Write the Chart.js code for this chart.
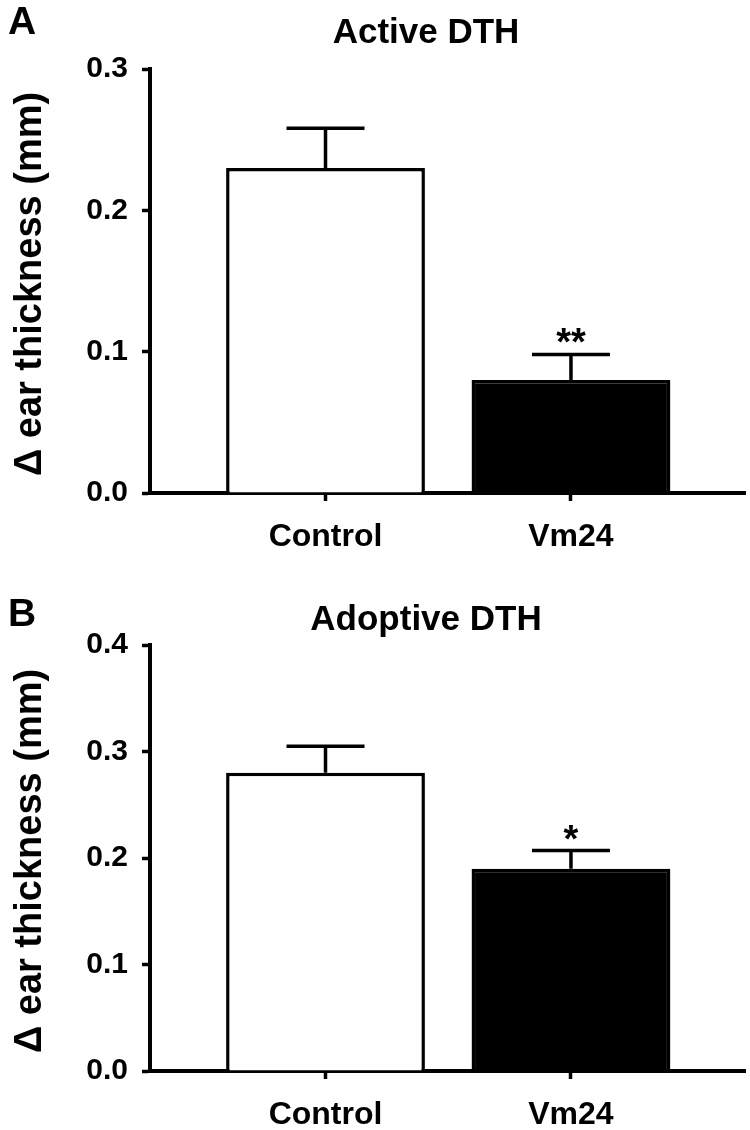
<!DOCTYPE html>
<html>
<head>
<meta charset="utf-8">
<script src="https://cdn.jsdelivr.net/npm/chart.js@4.4.0/dist/chart.umd.min.js"></script>
<style>
  html, body { margin: 0; padding: 0; background: #fff; }
  .panel { position: relative; width: 750px; height: 565px; }
</style>
</head>
<body>
<div class="panel"><canvas id="activeChart" width="750" height="565"></canvas></div>
<div class="panel"><canvas id="adoptiveChart" width="750" height="565"></canvas></div>
<script>
// Data
const categories = ['Control', 'Vm24'];
const barFills = ['#ffffff', '#000000'];

const activeMeans = [0.23, 0.08];
const activeErrors = [0.028, 0.018];
const activeStars = ['', '**'];
const activeTicks = [0, 0.1, 0.2, 0.3];

const adoptiveMeans = [0.28, 0.19];
const adoptiveErrors = [0.025, 0.017];
const adoptiveStars = ['', '*'];
const adoptiveTicks = [0, 0.1, 0.2, 0.3, 0.4];

const yTitle = '\u0394 ear thickness (mm)';
const FONT = '"Liberation Sans", Arial, sans-serif';

Chart.defaults.font.family = FONT;
Chart.defaults.color = '#000';

// error bars, significance stars, panel letter, title, y title
const extrasPlugin = {
  id: 'dthExtras',
  afterDatasetsDraw(chart, args, opts) {
    const ctx = chart.ctx;
    const y = chart.scales.y;
    const bars = chart.getDatasetMeta(0).data;
    ctx.save();
    ctx.strokeStyle = '#000';
    ctx.fillStyle = '#000';
    ctx.lineWidth = 3.5;
    bars.forEach((bar, i) => {
      const top = y.getPixelForValue(opts.means[i]);
      const cap = y.getPixelForValue(opts.means[i] + opts.errors[i]);
      ctx.beginPath();
      ctx.moveTo(bar.x, top);
      ctx.lineTo(bar.x, cap);
      ctx.moveTo(bar.x - 39, cap);
      ctx.lineTo(bar.x + 39, cap);
      ctx.stroke();
      if (opts.stars[i]) {
        ctx.font = 'bold 38px ' + FONT;
        ctx.textAlign = 'center';
        ctx.textBaseline = 'alphabetic';
        ctx.fillText(opts.stars[i], bar.x, cap + 1);
      }
    });
    ctx.restore();
  },
  afterDraw(chart, args, opts) {
    const ctx = chart.ctx;
    const area = chart.chartArea;
    ctx.save();
    ctx.fillStyle = '#000';
    ctx.textBaseline = 'alphabetic';

    ctx.font = 'bold 39px ' + FONT;
    ctx.textAlign = 'left';
    ctx.fillText(opts.letter, 8, opts.letterY);

    ctx.font = 'bold 35px ' + FONT;
    ctx.textAlign = 'center';
    ctx.fillText(opts.title, 426, opts.titleY);

    ctx.translate(31, (area.top + area.bottom) / 2 + 3);
    ctx.rotate(-Math.PI / 2);
    ctx.font = 'bold 38px ' + FONT;
    ctx.textBaseline = 'middle';
    ctx.fillText(yTitle, 0, 0);
    ctx.restore();
  }
};

function makeChart(canvasId, means, errors, stars, yTicks, cfg) {
  return new Chart(document.getElementById(canvasId), {
    type: 'bar',
    data: {
      datasets: [{
        data: means.map((v, i) => ({ x: i + 1, y: v })),
        backgroundColor: barFills,
        borderColor: '#000',
        borderWidth: 3.5,
        borderSkipped: 'bottom',
        barPercentage: 0.81,
        categoryPercentage: 1
      }]
    },
    options: {
      responsive: false,
      animation: false,
      devicePixelRatio: 1,
      layout: { padding: { top: cfg.top, right: 5, left: 0, bottom: 0 } },
      plugins: {
        legend: { display: false },
        tooltip: { enabled: false },
        dthExtras: {
          means: means, errors: errors, stars: stars,
          letter: cfg.letter, letterY: cfg.letterY,
          title: cfg.title, titleY: cfg.titleY
        }
      },
      scales: {
        x: {
          type: 'linear',
          min: 0.285,
          max: 2.709,
          offset: false,
          afterBuildTicks: axis => { axis.ticks = categories.map((c, i) => ({ value: i + 1 })); },
          afterFit: scale => { scale.height = cfg.xHeight; },
          ticks: {
            autoSkip: false,
            maxRotation: 0,
            padding: 17,
            font: { size: 32, weight: 'bold' },
            callback: v => categories[v - 1]
          },
          grid: { drawOnChartArea: false, offset: false, tickLength: 8, tickWidth: 3.5, tickColor: '#000' },
          border: { color: '#000', width: 4 }
        },
        y: {
          min: 0,
          max: yTicks[yTicks.length - 1],
          afterBuildTicks: axis => { axis.ticks = yTicks.map(v => ({ value: v })); },
          afterFit: scale => { scale.width = 150; },
          ticks: {
            padding: 14,
            font: { size: 30, weight: 'bold' },
            callback: v => v.toFixed(1)
          },
          grid: { drawOnChartArea: false, tickLength: 8, tickWidth: 3.5, tickColor: '#000' },
          border: { color: '#000', width: 4 }
        }
      }
    },
    plugins: [extrasPlugin]
  });
}

makeChart('activeChart', activeMeans, activeErrors, activeStars, activeTicks,
  { top: 69, xHeight: 72, letter: 'A', letterY: 34, title: 'Active DTH', titleY: 43 });

makeChart('adoptiveChart', adoptiveMeans, adoptiveErrors, adoptiveStars, adoptiveTicks,
  { top: 80, xHeight: 59, letter: 'B', letterY: 61, title: 'Adoptive DTH', titleY: 65 });
</script>
</body>
</html>
